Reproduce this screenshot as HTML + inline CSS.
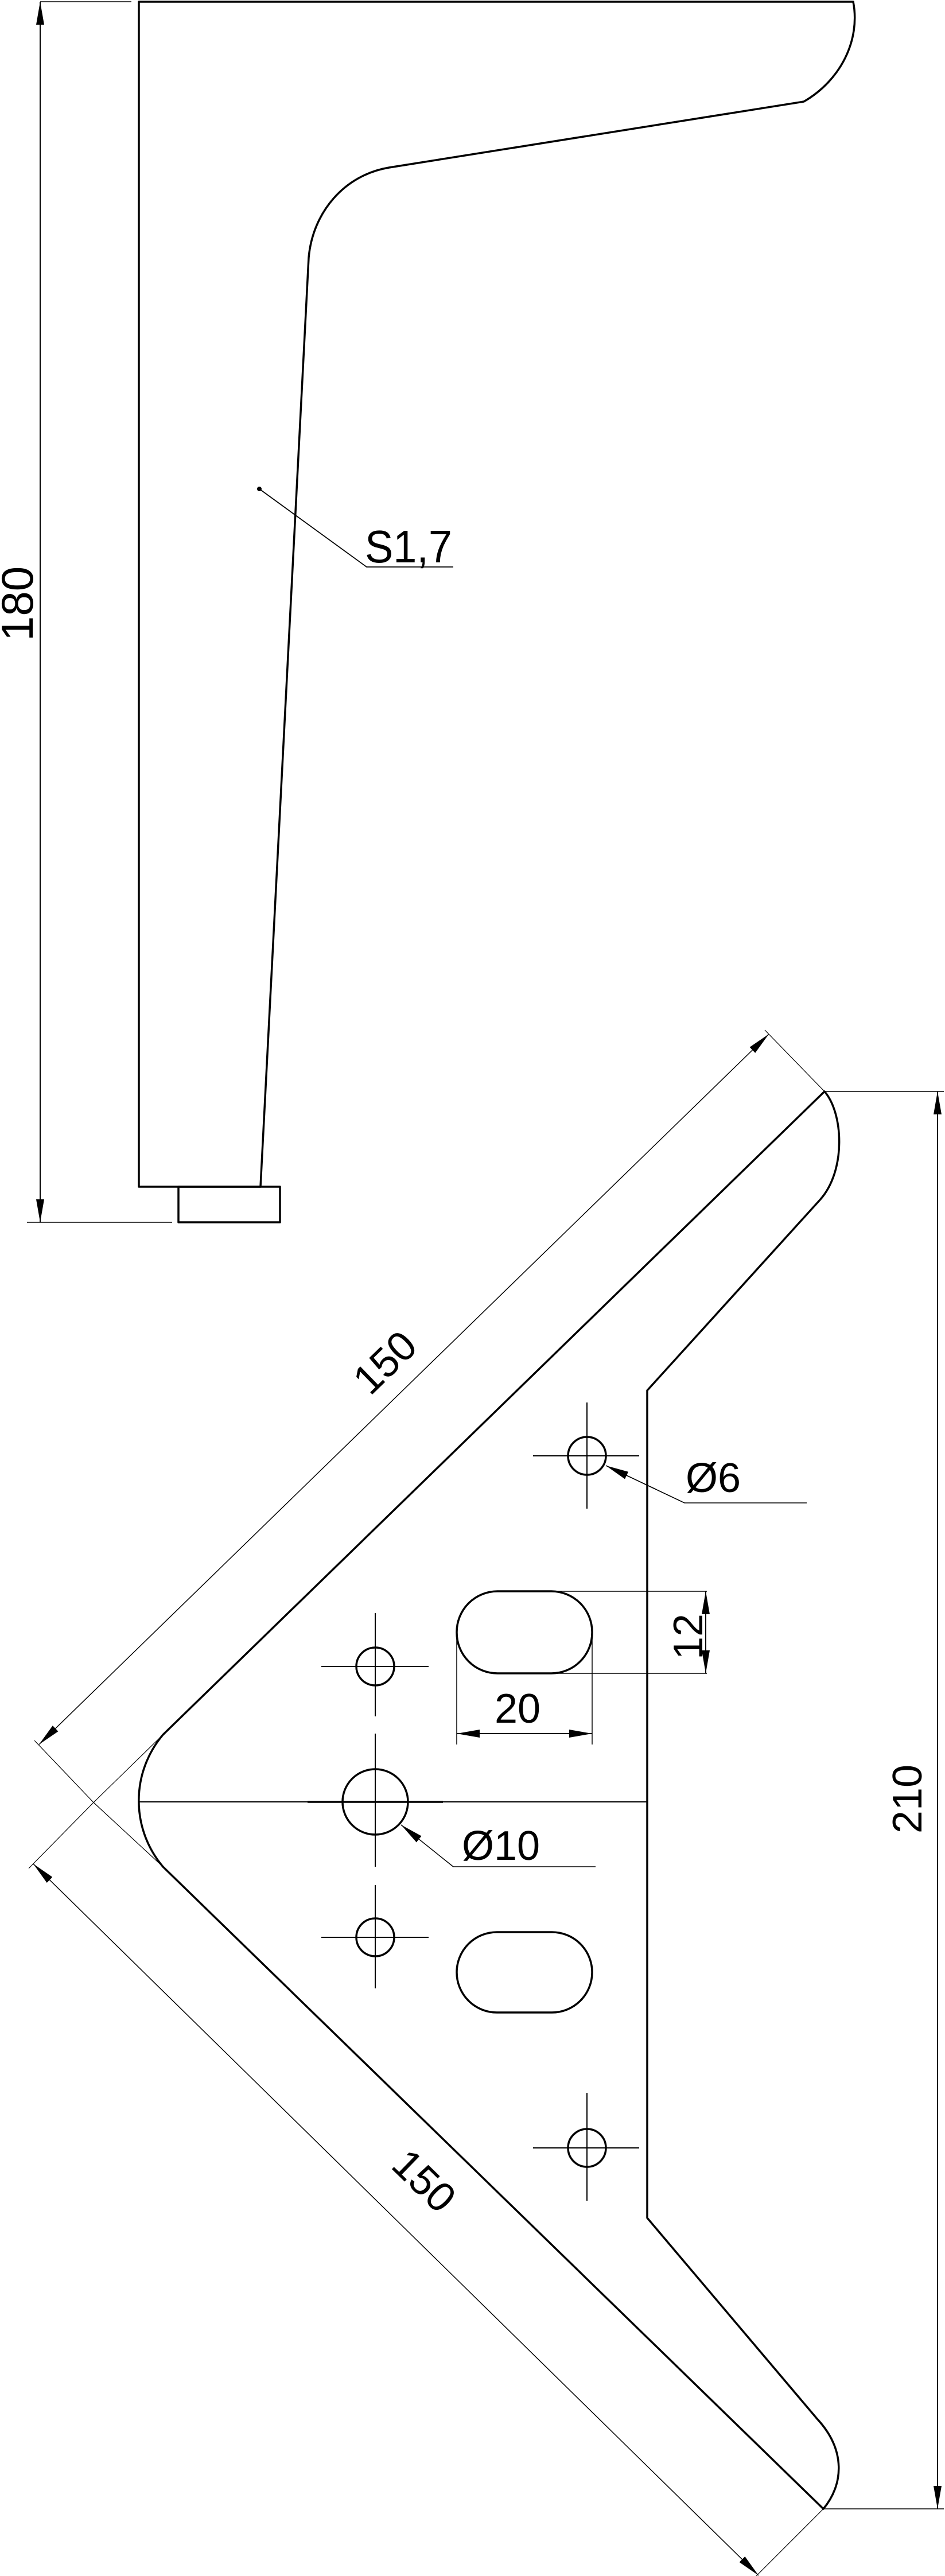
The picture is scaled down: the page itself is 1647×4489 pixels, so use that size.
<!DOCTYPE html>
<html><head><meta charset="utf-8"><style>
html,body{margin:0;padding:0;background:#fff}
svg{display:block}
text{font-family:"Liberation Sans",sans-serif;fill:#000}
</style></head><body>
<svg width="1647" height="4489" viewBox="0 0 1647 4489" xmlns="http://www.w3.org/2000/svg">
<defs>
<marker id="a" viewBox="0 0 20 8" refX="20" refY="4" markerWidth="20" markerHeight="8" markerUnits="userSpaceOnUse" orient="auto"><path d="M0,0 L20,4 L0,8z" fill="#000"/></marker>
<marker id="b" viewBox="0 0 40 14" refX="40" refY="7" markerWidth="40" markerHeight="14" markerUnits="userSpaceOnUse" orient="auto"><path d="M0,0 L40,7 L0,14z" fill="#000"/></marker>
</defs>
<g fill="none" stroke="#000" stroke-width="3.5" stroke-linejoin="round">
<!-- leg -->
<path d="M242,3 L1487,3 C1500,70 1465,140 1401,177 L678,292 C600,305 545,370 538,449 L454,2068 L242,2068 Z"/>
<rect x="311" y="2068" width="177" height="62"/>
<!-- plate -->
<path d="M1437,1902 C1470,1940 1475,2040 1429,2091 L1128,2423 L1128,3865 L1424,4215 C1475,4270 1470,4330 1435,4372 L284,3253 A178,178 0 0 1 284,3023 Z"/>
<!-- holes -->
<circle cx="654" cy="3140" r="57"/>
<circle cx="1023" cy="2537" r="33"/>
<circle cx="654" cy="2904" r="33"/>
<circle cx="654" cy="3376" r="33"/>
<circle cx="1023" cy="3743" r="33"/>
<rect x="796" y="2773" width="236" height="143" rx="71" ry="71"/>
<rect x="796" y="3367" width="236" height="140" rx="70" ry="70"/>
<line x1="536" y1="3140" x2="772" y2="3140"/>
</g>
<g fill="none" stroke="#000" stroke-width="2">
<line x1="242" y1="3140" x2="1128" y2="3140"/>
<!-- crosshairs -->
<line x1="929" y1="2537" x2="1114" y2="2537"/><line x1="1023" y1="2444" x2="1023" y2="2629"/>
<line x1="560" y1="2904" x2="747" y2="2904"/><line x1="654" y1="2811" x2="654" y2="2991"/>
<line x1="560" y1="3376" x2="747" y2="3376"/><line x1="654" y1="3285" x2="654" y2="3465"/>
<line x1="929" y1="3743" x2="1114" y2="3743"/><line x1="1023" y1="3647" x2="1023" y2="3835"/>
<line x1="654" y1="3021" x2="654" y2="3253"/>
<!-- 180 -->
<line x1="70" y1="3" x2="229" y2="3" stroke-width="1.5"/>
<line x1="47" y1="2130" x2="300" y2="2130" stroke-width="1.5"/>
<line x1="70" y1="1070" x2="70" y2="3" marker-end="url(#b)"/>
<line x1="70" y1="1070" x2="70" y2="2130" marker-end="url(#b)"/>
<!-- S1,7 -->
<circle cx="452" cy="852" r="3" fill="#000"/>
<polyline points="452,852 639,988 790,988" stroke-width="1.8"/>
<!-- 210 -->
<line x1="1437" y1="1902" x2="1645" y2="1902" stroke-width="1.5"/>
<line x1="1435" y1="4372" x2="1645" y2="4372" stroke-width="1.5"/>
<line x1="1634" y1="3137" x2="1634" y2="1902" marker-end="url(#b)"/>
<line x1="1634" y1="3137" x2="1634" y2="4372" marker-end="url(#b)"/>
<!-- 12 -->
<line x1="967" y1="2773" x2="1232" y2="2773" stroke-width="1.5"/>
<line x1="967" y1="2916" x2="1232" y2="2916" stroke-width="1.5"/>
<line x1="1230" y1="2845" x2="1230" y2="2773" marker-end="url(#b)"/>
<line x1="1230" y1="2845" x2="1230" y2="2916" marker-end="url(#b)"/>
<!-- 20 -->
<line x1="796" y1="2845" x2="796" y2="3040" stroke-width="1.5"/>
<line x1="1032" y1="2845" x2="1032" y2="3040" stroke-width="1.5"/>
<line x1="914" y1="3021" x2="796" y2="3021" marker-end="url(#b)"/>
<line x1="914" y1="3021" x2="1032" y2="3021" marker-end="url(#b)"/>
<!-- Ø6 leader -->
<polyline points="1406,2619 1193,2619 1056,2554" stroke-width="1.5"/>
<line x1="1193" y1="2619" x2="1056" y2="2554" marker-end="url(#b)" stroke-width="1.5"/>
<!-- Ø10 leader -->
<line x1="1038" y1="3253" x2="790" y2="3253" stroke-width="1.5"/>
<line x1="790" y1="3253" x2="699" y2="3180" marker-end="url(#b)" stroke-width="1.5"/>
<!-- 150 dims -->
<g stroke-width="1.2">
<line x1="163" y1="3141" x2="284" y2="3023"/>
<line x1="163" y1="3141" x2="284" y2="3253"/>
<line x1="163" y1="3141" x2="60" y2="3033"/>
<line x1="163" y1="3141" x2="50" y2="3256"/>
<line x1="1437" y1="1902" x2="1333" y2="1795"/>
<line x1="1435" y1="4372" x2="1318" y2="4489"/>
</g>
<line x1="704" y1="2421" x2="68" y2="3040" marker-end="url(#b)" stroke-width="1.5"/>
<line x1="704" y1="2421" x2="1340" y2="1802" marker-end="url(#b)" stroke-width="1.5"/>
<line x1="690" y1="3868" x2="58" y2="3248" marker-end="url(#b)" stroke-width="1.5"/>
<line x1="690" y1="3868" x2="1322" y2="4488" marker-end="url(#b)" stroke-width="1.5"/>
</g>
<!-- texts -->
<text x="0" y="0" font-size="78" text-anchor="middle" transform="translate(57,1052) rotate(-90)">180</text>
<text x="636" y="980" font-size="80" textLength="152" lengthAdjust="spacingAndGlyphs">S1,7</text>
<text x="0" y="0" font-size="72" text-anchor="middle" transform="translate(1606,3135) rotate(-90)">210</text>
<text x="0" y="0" font-size="72" text-anchor="middle" transform="translate(1224,2852) rotate(-90)">12</text>
<text x="902" y="3002" font-size="72" text-anchor="middle">20</text>
<text x="1195" y="2600" font-size="72">Ø6</text>
<text x="805" y="3241" font-size="72">Ø10</text>
<text x="0" y="0" font-size="72" text-anchor="middle" transform="translate(688,2392) rotate(-44.2)">150</text>
<text x="0" y="0" font-size="72" text-anchor="middle" transform="translate(722,3818) rotate(44.2)">150</text>
</svg>
</body></html>
